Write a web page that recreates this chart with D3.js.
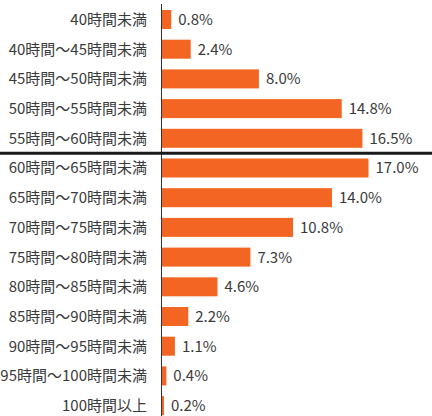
<!DOCTYPE html>
<html><head><meta charset="utf-8">
<script src="https://cdn.jsdelivr.net/npm/d3@7"></script>
<style>html,body{margin:0;padding:0;background:#fff;}svg{display:block;}</style>
</head><body>
<script>
const categories = ["40時間未満","40時間～45時間未満","45時間～50時間未満","50時間～55時間未満","55時間～60時間未満","60時間～65時間未満","65時間～70時間未満","70時間～75時間未満","75時間～80時間未満","80時間～85時間未満","85時間～90時間未満","90時間～95時間未満","95時間～100時間未満","100時間以上"];
const values = [0.8,2.4,8.0,14.8,16.5,17.0,14.0,10.8,7.3,4.6,2.2,1.1,0.4,0.2];
const separatorAfter = "55時間～60時間未満";

const W = 432, H = 416;
const x0 = 161.5;
const svg = d3.select("body").append("svg").attr("width", W).attr("height", H);
const x = d3.scaleLinear().domain([0, 17]).range([x0, x0 + 207]);
const y = d3.scaleBand().domain(categories).range([4.65, 420.45]).paddingInner(0.36).paddingOuter(0.18);

const font = "'Noto Sans CJK JP', 'Noto Sans', sans-serif";

svg.append("g").selectAll("rect").data(values).join("rect")
  .attr("x", x(0))
  .attr("y", (d,i) => y(categories[i]))
  .attr("width", d => Math.max(x(d) - x(0), 2))
  .attr("height", y.bandwidth())
  .attr("fill", "#F26522");

svg.append("g").selectAll("text").data(values).join("text")
  .attr("x", d => Math.max(x(d), x(0) + 2) + 7)
  .attr("y", (d,i) => y(categories[i]) + y.bandwidth()/2)
  .attr("dy", "0.36em")
  .attr("font-family", font).attr("font-size", 15).attr("fill", "#3a3a3a")
  .text(d => d.toFixed(1) + "%");

svg.append("g").selectAll("text").data(categories).join("text")
  .attr("x", 147)
  .attr("y", d => y(d) + y.bandwidth()/2)
  .attr("dy", "0.36em")
  .attr("text-anchor", "end")
  .attr("font-family", font).attr("font-size", 15).attr("fill", "#3a3a3a")
  .text(d => d);

svg.append("line").attr("x1", x0).attr("x2", x0).attr("y1", 4).attr("y2", H)
  .attr("stroke", "#333").attr("stroke-width", 1);

const iSep = categories.indexOf(separatorAfter);
const ySep = (y(categories[iSep]) + y.bandwidth() + y(categories[iSep+1])) / 2;
svg.append("line").attr("x1", 0).attr("x2", W).attr("y1", ySep).attr("y2", ySep)
  .attr("stroke", "#1a1a1a").attr("stroke-width", 3);
</script>
</body></html>
